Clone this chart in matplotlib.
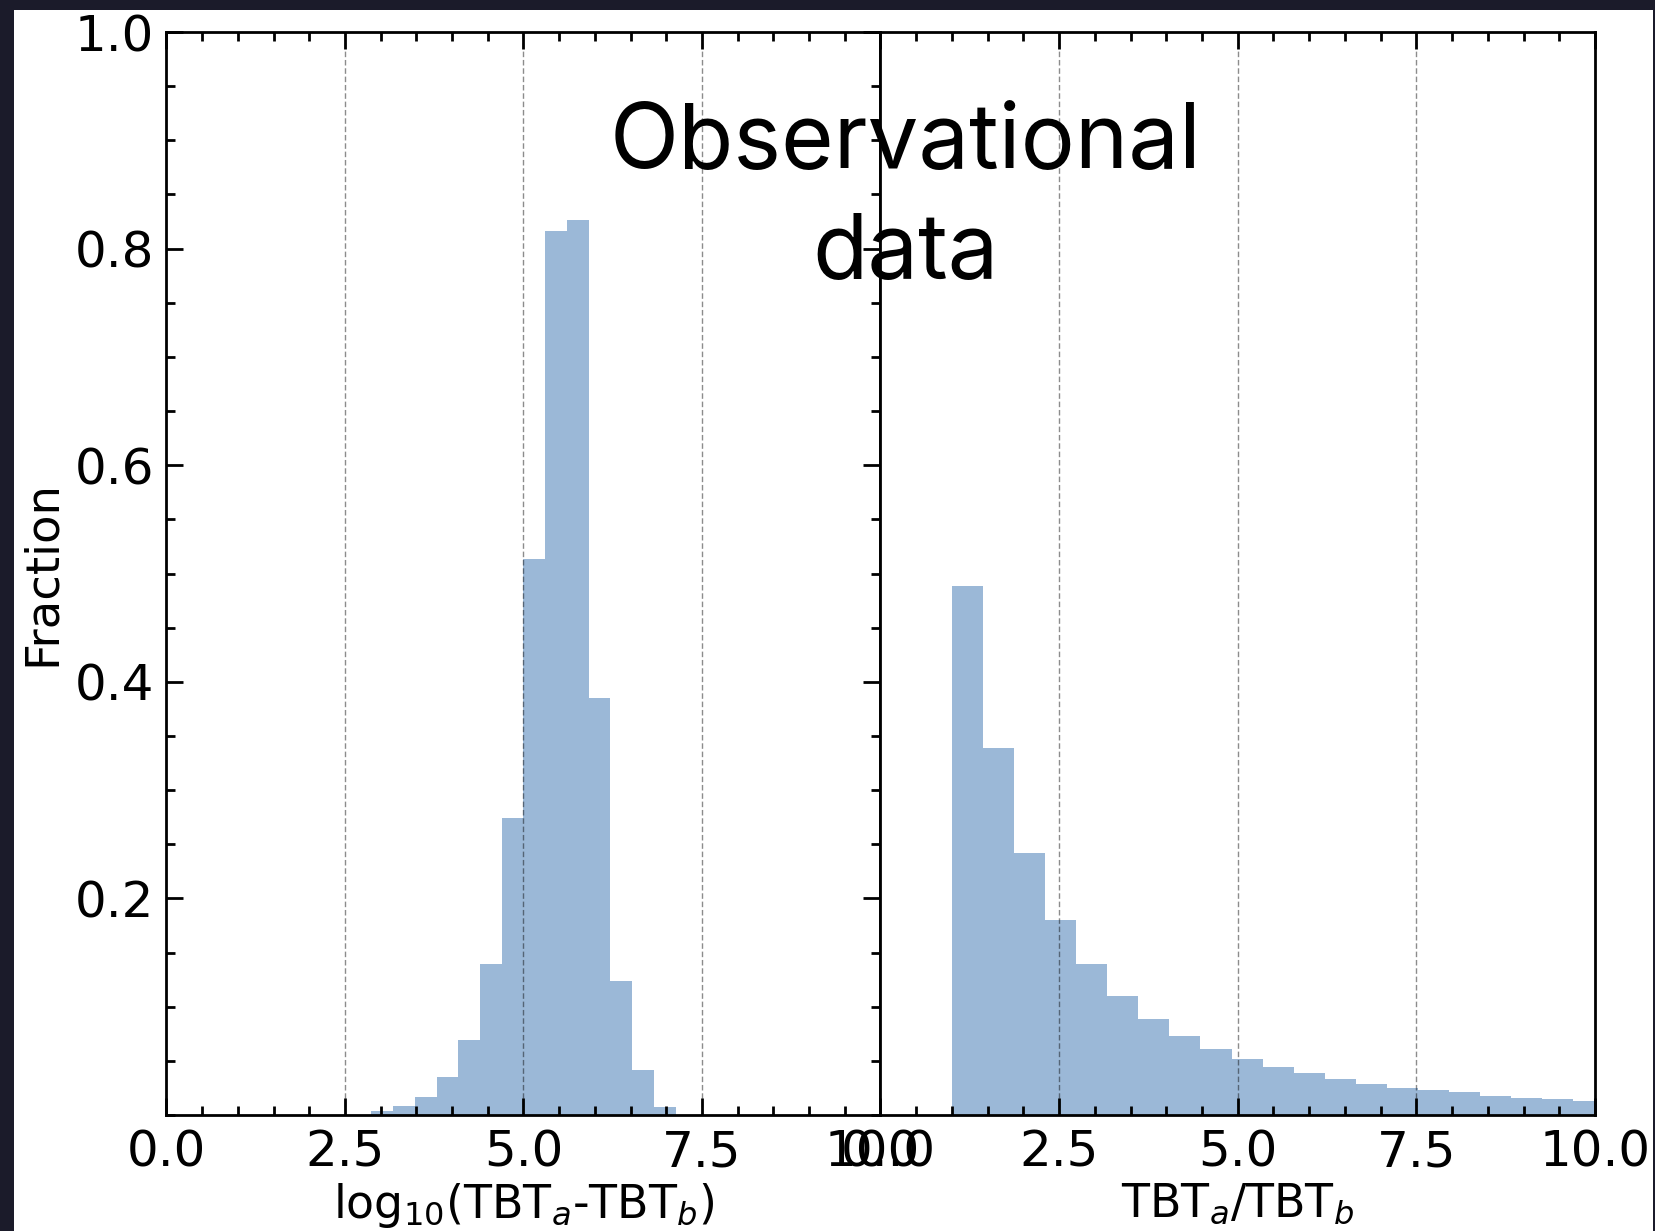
import numpy as np
import matplotlib
matplotlib.use("Agg")
import matplotlib.pyplot as plt
from matplotlib.patches import Rectangle
from matplotlib.ticker import MultipleLocator

# Histogram of log10(TBT_a - TBT_b): bin edges and fractions
log_diff_edges = [2.87, 3.174, 3.478, 3.783, 4.087, 4.391, 4.696, 5.0,
                  5.304, 5.609, 5.913, 6.217, 6.522, 6.826, 7.130]
log_diff_frac = [0.004, 0.008, 0.017, 0.035, 0.069, 0.139, 0.274, 0.513,
                 0.816, 0.826, 0.385, 0.124, 0.042, 0.007]

# Histogram of TBT_a / TBT_b: bin edges and fractions
ratio_edges = [1.0, 1.435, 1.870, 2.304, 2.739, 3.174, 3.609, 4.043, 4.478,
               4.913, 5.348, 5.783, 6.217, 6.652, 7.087, 7.522, 7.957, 8.391,
               8.826, 9.261, 9.696, 10.130]
ratio_frac = [0.488, 0.339, 0.242, 0.180, 0.139, 0.110, 0.089, 0.073, 0.061,
              0.052, 0.044, 0.039, 0.033, 0.029, 0.025, 0.023, 0.021, 0.018,
              0.016, 0.015, 0.013]

x_major = [0.0, 2.5, 5.0, 7.5, 10.0]
x_labels = ["0.0", "2.5", "5.0", "7.5", "10.0"]
y_major = [0.2, 0.4, 0.6, 0.8, 1.0]
y_labels = ["0.2", "0.4", "0.6", "0.8", "1.0"]
ref_lines = [2.5, 5.0, 7.5]

bar_color = "#9bb8d7"
W, H = 1656, 1231

fig = plt.figure(figsize=(W / 100, H / 100), dpi=100)
fig.patch.set_facecolor("#1b1b2a")
fig.patches.append(Rectangle((14 / W, 0), (1653 - 14) / W, (H - 10) / H,
                             transform=fig.transFigure, facecolor="white",
                             edgecolor="none", zorder=-10))

ax_l = fig.add_axes([166.5 / W, 1 - 1115 / H, 714 / W, 1083 / H])
ax_r = fig.add_axes([880.5 / W, 1 - 1115 / H, 714.5 / W, 1083 / H])

tick_fs = 36
label_fs = 33

for ax, edges, vals in ((ax_l, log_diff_edges, log_diff_frac),
                        (ax_r, ratio_edges, ratio_frac)):
    e = np.asarray(edges)
    ax.bar(e[:-1], vals, width=np.diff(e), align="edge", color=bar_color,
           edgecolor="none", linewidth=0, zorder=1)
    for xv in ref_lines:
        ax.axvline(xv, color="k", alpha=0.45, lw=1.0,
                   linestyle=(0, (4, 2)), zorder=2)
    ax.set_xlim(0, 10)
    ax.set_ylim(0, 1)
    ax.set_xticks(x_major)
    ax.set_xticklabels(x_labels)
    ax.xaxis.set_minor_locator(MultipleLocator(0.5))
    for s in ax.spines.values():
        s.set_linewidth(2.0)
    ax.tick_params(axis="x", which="both", direction="in", top=True,
                   bottom=True, labelsize=tick_fs, pad=10, width=2.0)
    ax.tick_params(axis="x", which="major", length=12)
    ax.tick_params(axis="x", which="minor", length=6.5)

# left panel: y ticks on both sides
ax_l.set_yticks(y_major)
ax_l.set_yticklabels(y_labels)
ax_l.yaxis.set_minor_locator(MultipleLocator(0.05))
ax_l.tick_params(axis="y", which="both", direction="in", left=True,
                 right=True, labelsize=tick_fs, pad=9, width=2.0)
ax_l.tick_params(axis="y", which="major", length=12)
ax_l.tick_params(axis="y", which="minor", length=6.5)

# right panel: shared scale, no y ticks
ax_r.tick_params(axis="y", which="both", left=False, right=False,
                 labelleft=False)

ax_l.set_ylabel("Fraction", fontsize=33.5)
ax_l.yaxis.set_label_coords(-0.142, 0.5)
ax_l.set_xlabel("log$_{10}$(TBT$_a$-TBT$_b$)", fontsize=label_fs)
ax_l.xaxis.set_label_coords(0.5, -0.061)
ax_r.set_xlabel("TBT$_a$/TBT$_b$", fontsize=label_fs)
ax_r.xaxis.set_label_coords(0.5, -0.061)

fig.text(905.5 / W, 1 - 278 / H, "Observational\ndata", family="Inter",
         fontsize=65, ha="center", va="baseline", multialignment="center",
         linespacing=1.4, color="black")

fig.savefig("out.png", dpi=100, facecolor=fig.get_facecolor())
